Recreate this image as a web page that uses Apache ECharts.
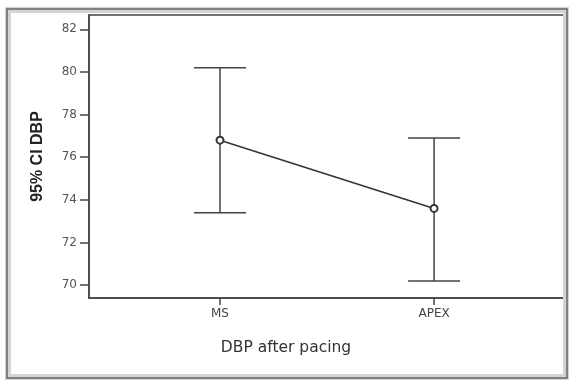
<!DOCTYPE html>
<html lang="en">
<head>
    <meta charset="UTF-8">
    <title>95% CI DBP</title>
    <script src="https://cdn.jsdelivr.net/npm/echarts@6/dist/echarts.min.js"></script>
</head>
<body style="margin:0;">
<div id="myChart" style="width: 570px;height: 380px;"></div>
<script>
    var groups = ['MS', 'APEX'];
    var means = [76.8, 73.6];
    var upper = [80.2, 76.9];
    var lower = [73.4, 70.2];
    var yTicks = [70, 72, 74, 76, 78, 80, 82];

    var myChart = echarts.init(document.getElementById('myChart'));

    var meanData = [];
    var barData = [];
    for (var i = 0; i < groups.length; i++) {
        meanData.push([i, means[i]]);
        barData.push([i, lower[i], upper[i]]);
    }

    option = {
        backgroundColor: '#fff',
        animation: false,
        graphic: [
            {
                type: 'rect',
                shape: {x: 8, y: 10, width: 558, height: 367},
                style: {fill: 'none', stroke: '#d4d4d4', lineWidth: 6},
                z: 1
            },
            {
                type: 'rect',
                shape: {x: 7, y: 9, width: 560, height: 369},
                style: {fill: 'none', stroke: '#666', lineWidth: 1.5},
                z: 2
            },
            {
                type: 'text',
                x: 286,
                y: 348,
                style: {
                    text: 'DBP after pacing',
                    font: '15.5px "DejaVu Sans"',
                    fill: '#333',
                    align: 'center',
                    verticalAlign: 'middle'
                }
            }
        ],
        grid: {
            left: 89,
            right: 6,
            top: 15,
            bottom: 82,
            show: true,
            borderColor: '#444',
            borderWidth: 1.5
        },
        xAxis: {
            type: 'value',
            min: -0.612,
            max: 1.607,
            splitLine: {show: false},
            axisLine: {show: true, onZero: false, lineStyle: {color: '#444', width: 1.5}},
            axisTick: {show: true, length: 7, customValues: [0, 1], lineStyle: {color: '#444', width: 1.5}},
            axisLabel: {
                customValues: [0, 1],
                formatter: function (v) { return groups[Math.round(v)]; },
                color: '#444',
                fontFamily: 'DejaVu Sans',
                fontSize: 12,
                margin: 10
            }
        },
        yAxis: {
            type: 'value',
            min: 69.4,
            max: 82.67,
            name: '95% CI DBP',
            nameLocation: 'middle',
            nameGap: 43,
            nameTextStyle: {fontFamily: 'Arial', fontSize: 16, fontWeight: 'bold', color: '#222'},
            splitLine: {show: false},
            axisLine: {show: true, onZero: false, lineStyle: {color: '#444', width: 1.5}},
            axisTick: {show: true, length: 9, customValues: yTicks, lineStyle: {color: '#444', width: 1.5}},
            axisLabel: {
                customValues: yTicks,
                color: '#555',
                fontFamily: 'DejaVu Sans',
                fontSize: 12,
                margin: 12
            }
        },
        series: [
            {
                type: 'custom',
                data: barData,
                renderItem: function (params, api) {
                    var x = api.value(0);
                    var lo = api.coord([x, api.value(1)]);
                    var hi = api.coord([x, api.value(2)]);
                    var half = 26;
                    var st = {stroke: '#444', lineWidth: 1.5};
                    return {
                        type: 'group',
                        children: [
                            {type: 'line', shape: {x1: lo[0], y1: lo[1], x2: hi[0], y2: hi[1]}, style: st},
                            {type: 'line', shape: {x1: hi[0] - half, y1: hi[1], x2: hi[0] + half, y2: hi[1]}, style: st},
                            {type: 'line', shape: {x1: lo[0] - half, y1: lo[1], x2: lo[0] + half, y2: lo[1]}, style: st}
                        ]
                    };
                },
                z: 2
            },
            {
                type: 'line',
                data: meanData,
                symbol: 'emptyCircle',
                symbolSize: 7,
                lineStyle: {color: '#333', width: 1.5},
                itemStyle: {color: '#333', borderWidth: 1.2},
                z: 3
            }
        ]
    };

    myChart.setOption(option);
</script>
</body>
</html>
